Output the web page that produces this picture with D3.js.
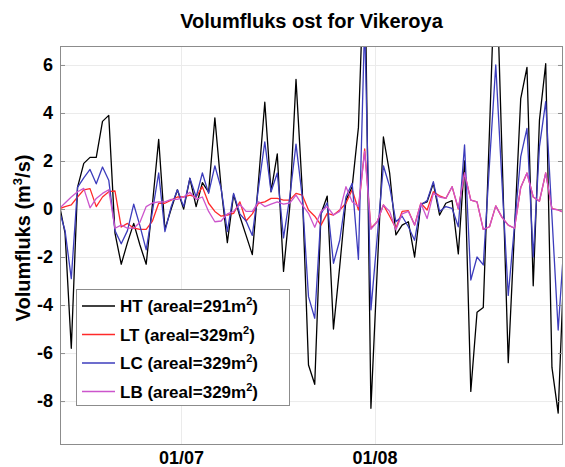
<!DOCTYPE html>
<html>
<head>
  <meta charset="utf-8">
  <title>Volumfluks ost for Vikeroya</title>
  <script src="https://d3js.org/d3.v7.min.js"></script>
  <style>
    body { margin: 0; background: #fff; }
    text { font-family: "Liberation Sans", Arial, Helvetica, sans-serif; font-weight: bold; fill: #000; }
  </style>
</head>
<body>
<script>
// daily values, first value at 11 June 10:00
var startDate = new Date(Date.UTC(2011, 5, 11, 10));

var htValues = [0.3, -1.0, -5.8, 0.9, 1.9, 2.15, 2.15, 3.65, 3.9, -1.0,
  -2.3, -1.4, -0.6, -1.5, -2.3, 0.2, 2.9, -0.85, 0.0, 0.8,
  0.0, 1.28, 0.1, 1.1, 0.7, 3.8, 0.9, -1.4, 0.6, -0.3,
  -1.1, -1.9, 1.2, 4.45, 0.72, 2.3, -2.6, 0.1, 5.4, 0.8,
  -6.5, -7.3, -0.2, 0.54, -5.0, -2.4, 0.37, 0.93, 3.4, 11,
  -8.3, -2.6, 3.0, 1.5, -1.08, -0.67, -0.53, -2.0, 0.2, 0.3,
  1.07, -0.25, 0.24, 0.35, -1.87, 2.0, -7.6, -4.3, -4.1, 3.3,
  11, 2.3, -6.4, -0.9, 4.6, 5.9, -3.2, 3.7, 6.05, -6.6,
  -8.5, -1.8];

var ltValues = [0.0, 0.1, 0.17, 0.5, 0.8, 0.85, 0.1, 0.5, 0.72, 0.75,
  -0.75, -0.6, -0.8, -0.85, -0.85, -0.5, 0.24, 0.24, 0.37, 0.5,
  0.5, 0.58, 0.5, 0.93, 0.24, -0.1, -0.3, -0.25, -0.18, 0.3,
  -0.5, -0.2, 0.24, 0.3, 0.44, 0.44, 0.37, 0.37, 0.65, 0.58,
  -0.04, -0.3, -0.67, -0.18, -0.25, -0.04, 0.24, 0.8, -0.04, 2.5,
  -0.8, -0.53, 0.17, -0.3, -0.8, -0.1, -0.07, -0.67, 0.24, -0.04,
  0.72, 0.55, 0.44, 0.93, 0.0, 1.5, 0.37, 0.3, -0.85, -0.74,
  0.13, -0.35, -0.67, -0.8, 0.9, 1.5, 0.5, 0.33, 1.5, 0.02,
  -0.04, -0.15];

var lcValues = [0.0, -0.9, -2.9, 0.9, 1.3, 1.65, 1.05, 1.75, 1.2, -0.9,
  -1.45, -0.9, 0.2, -0.7, -1.7, -0.1, 1.5, -0.94, 0.1, 0.8,
  0.1, 1.28, 0.5, 1.5, 0.65, 1.8, 0.86, -0.94, 0.65, -0.2,
  -0.5, -1.1, 0.9, 2.8, 0.72, 1.5, -1.2, 0.5, 2.7, 0.5,
  -3.65, -4.55, -0.2, 0.26, -2.26, -1.3, 0.5, 1.07, -2.1, 7.8,
  -4.2, -1.2, 1.8, 0.93, -0.53, -0.3, -0.74, -1.3, 0.17, 0.35,
  1.14, -0.1, 0.1, 0.03, -0.74, 2.67, -2.96, -2.0, -2.33, 1.9,
  6.0, 1.1, -3.6, -0.7, 2.18, 3.36, -2.0, 2.6, 4.47, -0.3,
  -5.04, -1.15];

var lbValues = [0.0, 0.25, 0.5, 0.72, 0.86, 0.05, 0.44, 0.65, 0.8, -0.8,
  -0.67, -0.8, -0.8, -0.55, 0.1, 0.25, 0.3, 0.3, 0.4, 0.4,
  0.5, 0.7, 0.4, 0.5, -0.1, -0.53, -0.5, -0.2, -0.1, 0.2,
  -0.1, -0.1, 0.3, 0.1, 0.2, 0.3, 0.2, 0.25, 0.58, 0.17,
  -0.18, -0.76, -0.1, 0.1, -0.25, -0.1, 0.93, 0.3, 0.1, 2.4,
  -0.85, -0.53, 0.17, -0.1, -0.87, -0.2, -0.1, -0.67, 0.24, -0.4,
  0.65, 0.5, 0.44, 0.93, 0.03, 1.5, 0.37, 0.3, -0.85, -0.74,
  0.13, -0.35, -0.67, -0.8, 0.9, 1.5, 0.5, 0.33, 1.5, 0.0,
  -0.04, -0.15];

var seriesNames = ["HT (areal=291m", "LT (areal=329m", "LC (areal=329m", "LB (areal=329m"];
var seriesColors = ["#000000", "#ff2a2a", "#3c3cbc", "#cc55cc"];
var yTicks = [-8, -6, -4, -2, 0, 2, 4, 6];
var xTicks = [new Date(Date.UTC(2011, 6, 1)), new Date(Date.UTC(2011, 7, 1))];

var width = 565, height = 467;
var plot = { left: 60, right: 563, top: 46, bottom: 445 };

var svg = d3.select("body").append("svg")
  .attr("width", width)
  .attr("height", height);

var x = d3.scaleUtc()
  .domain([new Date(Date.UTC(2011, 5, 11, 14, 36)), new Date(Date.UTC(2011, 7, 31, 4, 30))])
  .range([plot.left, plot.right]);

var y = d3.scaleLinear()
  .domain([-9.83, 6.79])
  .range([plot.bottom, plot.top]);

svg.append("defs").append("clipPath").attr("id", "clip")
  .append("rect")
  .attr("x", plot.left).attr("y", plot.top)
  .attr("width", plot.right - plot.left).attr("height", plot.bottom - plot.top);

// grid
svg.append("g").selectAll("line.gy").data(yTicks).enter().append("line")
  .attr("x1", plot.left).attr("x2", plot.right)
  .attr("y1", function(d) { return y(d) + 0.5; }).attr("y2", function(d) { return y(d) + 0.5; })
  .attr("stroke", "#ebebeb").attr("stroke-width", 1);
svg.append("g").selectAll("line.gx").data(xTicks).enter().append("line")
  .attr("y1", plot.top).attr("y2", plot.bottom)
  .attr("x1", function(d) { return Math.round(x(d)) + 0.5; }).attr("x2", function(d) { return Math.round(x(d)) + 0.5; })
  .attr("stroke", "#ebebeb").attr("stroke-width", 1);

// data lines
var allValues = [htValues, ltValues, lcValues, lbValues];
var line = d3.line()
  .x(function(d, i) { return x(d3.utcDay.offset(startDate, i)); })
  .y(function(d) { return y(d); });

svg.append("g").attr("clip-path", "url(#clip)")
  .selectAll("path").data(allValues).enter().append("path")
  .attr("d", function(d) { return line(d); })
  .attr("fill", "none")
  .attr("stroke", function(d, i) { return seriesColors[i]; })
  .attr("stroke-width", 1.3)
  .attr("stroke-linejoin", "round");

// axes box
svg.append("rect")
  .attr("x", plot.left + 0.5).attr("y", plot.top + 0.5)
  .attr("width", plot.right - plot.left - 1).attr("height", plot.bottom - plot.top - 1)
  .attr("fill", "none").attr("stroke", "#8c8c8c").attr("stroke-width", 1);

var yAxis = d3.axisLeft(y).tickValues(yTicks).tickSize(0).tickPadding(6)
  .tickFormat(function(d) { return d; });
svg.append("g").attr("transform", "translate(" + (plot.left - 1) + ",0)").call(yAxis)
  .call(function(g) { g.select(".domain").remove(); })
  .selectAll("text").style("font-size", "18px").style("font-family", null);

var xAxis = d3.axisBottom(x).tickValues(xTicks).tickSize(0).tickPadding(6)
  .tickFormat(d3.utcFormat("%d/%m"));
svg.append("g").attr("transform", "translate(0," + plot.bottom + ")").call(xAxis)
  .call(function(g) { g.select(".domain").remove(); })
  .selectAll("text").style("font-size", "18px").style("font-family", null);

// small inner ticks
svg.append("g").selectAll("line").data(yTicks).enter().append("line")
  .attr("x1", plot.left).attr("x2", plot.left + 5)
  .attr("y1", function(d) { return y(d) + 0.5; }).attr("y2", function(d) { return y(d) + 0.5; })
  .attr("stroke", "#8c8c8c");
svg.append("g").selectAll("line").data(yTicks).enter().append("line")
  .attr("x1", plot.right - 5).attr("x2", plot.right)
  .attr("y1", function(d) { return y(d) + 0.5; }).attr("y2", function(d) { return y(d) + 0.5; })
  .attr("stroke", "#8c8c8c");

// title
svg.append("text")
  .attr("x", (plot.left + plot.right) / 2).attr("y", 28)
  .attr("text-anchor", "middle").style("font-size", "20px")
  .text("Volumfluks ost for Vikeroya");

// y label
var yl = svg.append("text")
  .attr("transform", "translate(30,238) rotate(-90)")
  .attr("text-anchor", "middle").style("font-size", "20px");
yl.append("tspan").text("Volumfluks (m");
yl.append("tspan").attr("dy", -8).style("font-size", "13px").text("3");
yl.append("tspan").attr("dy", 8).text("/s)");

// legend
var legend = svg.append("g");
legend.append("rect")
  .attr("x", 76.5).attr("y", 289.5).attr("width", 213).attr("height", 116)
  .attr("fill", "#fff").attr("stroke", "#8c8c8c");
var rows = legend.selectAll("g.row").data(seriesNames).enter().append("g")
  .attr("transform", function(d, i) { return "translate(0," + (306 + i * 28.5) + ")"; });
rows.append("line")
  .attr("x1", 82).attr("x2", 115).attr("y1", 0).attr("y2", 0)
  .attr("stroke", function(d, i) { return seriesColors[i]; }).attr("stroke-width", 1.3);
var lt = rows.append("text").attr("x", 120).attr("y", 6).style("font-size", "17px");
lt.append("tspan").text(function(d) { return d; });
lt.append("tspan").attr("dy", -7).style("font-size", "11px").text("2");
lt.append("tspan").attr("dy", 7).text(")");
</script>
</body>
</html>
